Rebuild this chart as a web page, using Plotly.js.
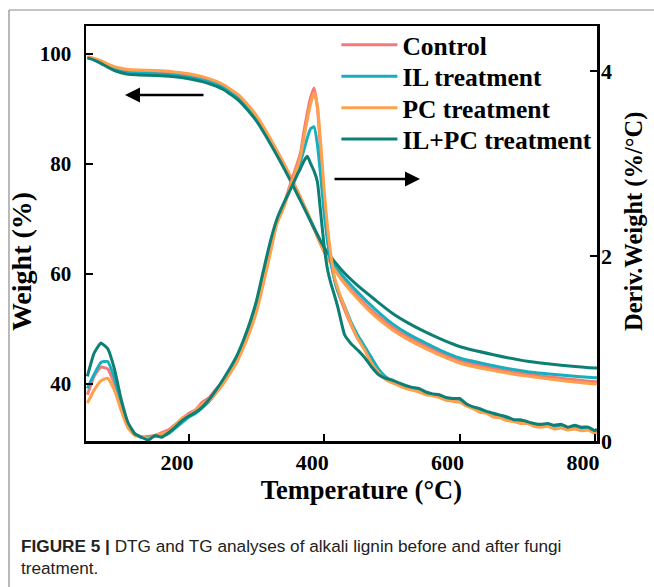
<!DOCTYPE html>
<html>
<head>
<meta charset="utf-8">
<script src="https://cdn.plot.ly/plotly-3.0.1.min.js"></script>
<style>html,body{margin:0;padding:0;background:#fff;}#chart{width:654px;height:587px;}</style>
</head>
<body>
<div id="chart"></div>
<script>
// ---- Data ----
const seriesNames = ["Control", "IL treatment", "PC treatment", "IL+PC treatment"];
const seriesColors = ["#F47A7A", "#17AEBE", "#FFA04C", "#0E7F74"];

// TG (Weight %), left axis
const tempTG = [50, 60, 70, 80, 90, 100, 110, 125, 150, 175, 200, 225, 250, 275, 300, 325, 350, 375, 400, 425, 450, 475, 500, 525, 550, 575, 600, 650, 700, 750, 800, 803];
const tgControl = [99.4, 99.1, 98.6, 98.0, 97.5, 97.2, 97.0, 96.9, 96.8, 96.6, 96.2, 95.4, 94.2, 92.0, 88.3, 83.2, 77.5, 71.0, 64.0, 59.3, 55.8, 52.8, 50.4, 48.5, 46.9, 45.5, 44.3, 42.8, 41.8, 41.0, 40.4, 40.4];
const tgIL      = [99.4, 99.0, 98.5, 97.8, 97.2, 96.8, 96.6, 96.5, 96.4, 96.2, 95.8, 95.1, 94.0, 91.9, 88.3, 83.3, 77.6, 71.1, 64.5, 60.0, 56.6, 53.6, 51.0, 49.0, 47.4, 45.9, 44.7, 43.3, 42.2, 41.6, 41.1, 41.1];
const tgPC      = [99.5, 99.2, 98.8, 98.2, 97.7, 97.4, 97.2, 97.1, 97.0, 96.8, 96.4, 95.7, 94.5, 92.4, 88.8, 83.6, 77.8, 71.2, 64.0, 59.0, 55.4, 52.3, 49.9, 48.0, 46.4, 45.0, 43.8, 42.4, 41.4, 40.6, 40.0, 40.0];
const tgILPC    = [99.3, 98.9, 98.3, 97.6, 97.0, 96.6, 96.3, 96.2, 96.1, 95.9, 95.5, 94.8, 93.6, 91.4, 87.8, 82.7, 77.0, 70.8, 64.8, 60.8, 57.8, 55.3, 52.9, 51.0, 49.4, 48.0, 46.8, 45.3, 44.1, 43.4, 42.9, 42.9];

// DTG (Deriv. Weight %/°C), right axis
const tempDTG = [50, 60, 70, 80, 90, 100, 110, 120, 130, 140, 150, 160, 170, 180, 190, 200, 210, 220, 230, 240, 250, 260, 270, 280, 290, 300, 310, 320, 330, 340, 350, 360,
  365, 370, 375, 380, 385, 390, 395, 400, 405, 410, 415, 420,
  430, 440, 450, 460, 470, 480, 490, 500, 510, 520, 530, 540, 550, 560, 570, 580, 590, 600, 610, 620, 630, 640, 650, 660, 670, 680, 690, 700, 710, 720, 730, 740, 750, 760, 770, 780, 790, 800, 803];
const dtgControl = [0.50, 0.70, 0.80, 0.78, 0.62, 0.36, 0.16, 0.07, 0.04, 0.05, 0.06, 0.09, 0.12, 0.18, 0.24, 0.30, 0.34, 0.42, 0.47, 0.56, 0.64, 0.76, 0.88, 1.05, 1.24, 1.45, 1.75, 2.08, 2.38, 2.55, 2.78, 3.00,
  3.12, 3.35, 3.55, 3.72, 3.82, 3.60, 3.10, 2.60, 2.20, 1.95, 1.75, 1.62,
  1.42, 1.25, 1.10, 1.00, 0.86, 0.76, 0.68, 0.65, 0.61, 0.58, 0.56, 0.54, 0.52, 0.50, 0.49, 0.46, 0.45, 0.44, 0.40, 0.36, 0.33, 0.31, 0.28, 0.27, 0.24, 0.22, 0.21, 0.20, 0.18, 0.17, 0.18, 0.15, 0.16, 0.14, 0.15, 0.13, 0.14, 0.10, 0.12];
const dtgIL = [0.57, 0.72, 0.85, 0.86, 0.68, 0.40, 0.18, 0.08, 0.04, 0.04, 0.05, 0.06, 0.08, 0.14, 0.20, 0.26, 0.30, 0.36, 0.43, 0.52, 0.62, 0.74, 0.87, 1.03, 1.22, 1.44, 1.74, 2.06, 2.36, 2.54, 2.74, 2.92,
  3.02, 3.15, 3.28, 3.38, 3.40, 3.20, 2.85, 2.45, 2.15, 1.92, 1.75, 1.62,
  1.46, 1.28, 1.14, 1.02, 0.90, 0.78, 0.70, 0.65, 0.62, 0.58, 0.57, 0.54, 0.52, 0.50, 0.48, 0.46, 0.45, 0.45, 0.40, 0.36, 0.34, 0.31, 0.29, 0.27, 0.25, 0.22, 0.22, 0.20, 0.18, 0.17, 0.18, 0.16, 0.17, 0.14, 0.16, 0.14, 0.14, 0.11, 0.12];
const dtgPC = [0.41, 0.55, 0.65, 0.68, 0.55, 0.33, 0.14, 0.06, 0.05, 0.03, 0.06, 0.08, 0.10, 0.17, 0.25, 0.28, 0.33, 0.40, 0.44, 0.52, 0.61, 0.72, 0.84, 1.00, 1.18, 1.40, 1.70, 2.02, 2.35, 2.52, 2.75, 2.96,
  3.08, 3.28, 3.48, 3.65, 3.77, 3.62, 3.20, 2.70, 2.30, 2.00, 1.78, 1.65,
  1.45, 1.26, 1.10, 0.98, 0.84, 0.74, 0.67, 0.63, 0.60, 0.57, 0.55, 0.53, 0.50, 0.49, 0.47, 0.44, 0.43, 0.42, 0.38, 0.35, 0.31, 0.30, 0.26, 0.25, 0.22, 0.21, 0.19, 0.19, 0.16, 0.15, 0.16, 0.13, 0.14, 0.12, 0.13, 0.11, 0.12, 0.08, 0.10];
const dtgILPC = [0.70, 0.95, 1.06, 1.00, 0.78, 0.45, 0.20, 0.08, 0.04, 0.01, 0.06, 0.04, 0.09, 0.15, 0.22, 0.27, 0.31, 0.37, 0.45, 0.55, 0.66, 0.78, 0.91, 1.08, 1.28, 1.52, 1.84, 2.15, 2.40, 2.57, 2.72, 2.88,
  2.95, 3.03, 3.08, 3.00, 2.92, 2.80, 2.45, 2.10, 1.85, 1.70, 1.58, 1.45,
  1.15, 1.05, 0.98, 0.90, 0.80, 0.72, 0.68, 0.66, 0.63, 0.60, 0.58, 0.57, 0.53, 0.51, 0.50, 0.47, 0.46, 0.46, 0.40, 0.37, 0.35, 0.32, 0.30, 0.28, 0.26, 0.23, 0.23, 0.21, 0.19, 0.18, 0.19, 0.17, 0.18, 0.15, 0.17, 0.15, 0.15, 0.11, 0.13];

const xTicks = [200, 400, 600, 800];
const yTicks = [40, 60, 80, 100];
const y2Ticks = [0, 2, 4];

// ---- Traces ----
const tgSets = [tgControl, tgIL, tgPC, tgILPC];
const dtgSets = [dtgControl, dtgIL, dtgPC, dtgILPC];
const legendIds = ['legend', 'legend2', 'legend3', 'legend4'];
const traces = [];
for (let i = 0; i < 4; i++) {
  traces.push({
    x: tempTG, y: tgSets[i], type: 'scatter', mode: 'lines', yaxis: 'y',
    name: seriesNames[i], legendgroup: 'g' + i, showlegend: true, legend: legendIds[i],
    line: {color: seriesColors[i], width: 3, shape: 'spline', smoothing: 0.6}
  });
}
for (let i = 0; i < 4; i++) {
  traces.push({
    x: tempDTG, y: dtgSets[i], type: 'scatter', mode: 'lines', yaxis: 'y2',
    name: seriesNames[i], legendgroup: 'g' + i, showlegend: false,
    line: {color: seriesColors[i], width: 3, shape: 'spline', smoothing: 0.4}
  });
}

const serif = 'Liberation Serif, Times New Roman, serif';
const tickFont = {family: serif, size: 22, color: '#000', weight: 'bold'};
const titleFont = {family: serif, size: 26.5, color: '#000', weight: 'bold'};
const legendFont = {family: serif, size: 25.5, color: '#000', weight: 'bold'};
const pad = n => '&nbsp;'.repeat(n);

const axisCommon = {
  showline: true, linecolor: '#000', linewidth: 2.5,
  ticks: 'inside', ticklen: 7, tickwidth: 2, tickcolor: '#000',
  showgrid: false, zeroline: false, tickfont: tickFont
};

function legendAt(yPaper) {
  return {
    x: 0.49, y: yPaper, xanchor: 'left', yanchor: 'middle',
    bgcolor: 'rgba(0,0,0,0)', borderwidth: 0, font: legendFont, itemwidth: 56
  };
}

const layout = {
  width: 654, height: 587,
  margin: {l: 86, r: 57, t: 26, b: 146},
  paper_bgcolor: '#fff', plot_bgcolor: '#fff',
  showlegend: true,
  legend: legendAt(0.954),
  legend2: legendAt(0.878),
  legend3: legendAt(0.802),
  legend4: legendAt(0.7265),
  xaxis: Object.assign({}, axisCommon, {
    range: [48, 803], tickvals: xTicks, mirror: true, ticklabelshift: -12,
    title: {text: pad(6) + 'Temperature (°C)', font: titleFont, standoff: 4}
  }),
  yaxis: Object.assign({}, axisCommon, {
    range: [29.6, 105.1], tickvals: yTicks, ticklabelstandoff: 8,
    tickfont: Object.assign({}, tickFont, {size: 21}),
    title: {text: 'Weight (%)' + pad(8), font: Object.assign({}, titleFont, {size: 28}), standoff: 0}
  }),
  yaxis2: Object.assign({}, axisCommon, {
    range: [0, 4.49], tickvals: y2Ticks, overlaying: 'y', side: 'right', ticklabelstandoff: -3,
    title: {text: pad(4) + 'Deriv.Weight (%/°C)', font: Object.assign({}, titleFont, {size: 24.5}), standoff: 14}
  }),
  annotations: [
    {x: 105.6, y: 92.55, xref: 'x', yref: 'y', ax: 80, ay: 0, axref: 'pixel', ayref: 'pixel',
     text: '', showarrow: true, arrowhead: 2, arrowsize: 1.2, arrowwidth: 2.5, arrowcolor: '#000'},
    {x: 541.5, y: 77.27, xref: 'x', yref: 'y', ax: -87, ay: 0, axref: 'pixel', ayref: 'pixel',
     text: '', showarrow: true, arrowhead: 2, arrowsize: 1.2, arrowwidth: 2.5, arrowcolor: '#000'},
    {x: -0.131, y: -0.224, xref: 'paper', yref: 'paper', xanchor: 'left', yanchor: 'top', align: 'left',
     showarrow: false,
     text: '<b>FIGURE 5 |</b> DTG and TG analyses of alkali lignin before and after fungi<br>treatment.',
     font: {family: 'Liberation Sans, Arial, sans-serif', size: 17.2, color: '#222'}}
  ],
  shapes: [
    {type: 'line', xref: 'paper', yref: 'paper', x0: -0.1507, x1: 1.12, y0: 1.0386, y1: 1.0386, line: {color: '#8a8a8a', width: 1.2}},
    {type: 'line', xref: 'paper', yref: 'paper', x0: -0.1507, x1: -0.1507, y0: 1.0386, y1: -0.36, line: {color: '#8a8a8a', width: 1.2}}
  ]
};

Plotly.newPlot('chart', traces, layout, {displayModeBar: false, staticPlot: true});
</script>
</body>
</html>
